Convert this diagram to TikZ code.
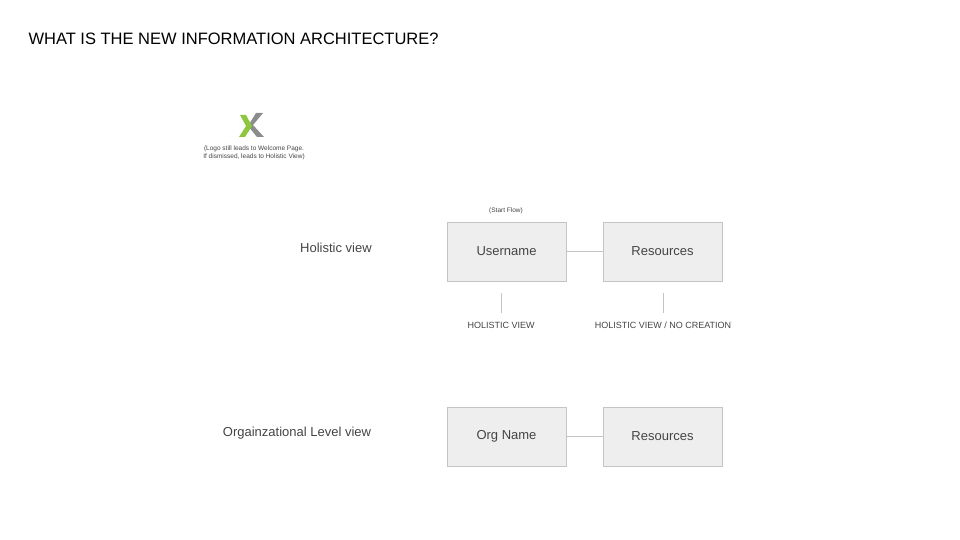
\documentclass[tikz,border=0pt]{standalone}
\usepackage{fontspec}
\setmainfont{Liberation Sans}
\definecolor{boxfill}{HTML}{EEEEEE}
\definecolor{boxline}{HTML}{C4C4C4}
\definecolor{txt}{HTML}{444444}
\definecolor{lgreen}{HTML}{8DC63F}
\definecolor{lgrey}{HTML}{8C8C8C}
\begin{document}
\begin{tikzpicture}[x=1pt,y=-1pt,
  pagebox/.style={draw=boxline,fill=boxfill,minimum width=119pt,minimum height=59pt,font=\fontsize{13}{15}\selectfont,text=txt},
  conn/.style={draw=boxline,line width=0.8pt},
  lbl/.style={font=\fontsize{13}{15}\selectfont,text=txt},
  captxt/.style={font=\fontsize{9}{11}\selectfont,text=txt},
  tiny/.style={font=\fontsize{6.5}{7.5}\selectfont,text=txt,align=center}]
\useasboundingbox (0,0) rectangle (960,540);
\node[anchor=west,font=\fontsize{16.5}{19}\selectfont,text=black] (title) at (25,39) {WHAT IS THE NEW INFORMATION ARCHITECTURE?};
% logo
\fill[lgrey] (256,113) -- (263,113) -- (253,125) -- (264,137) -- (257,137) -- (248,126) -- cycle;
\fill[lgreen] (240,115) -- (246,115) -- (252,126) -- (245,137) -- (239,137) -- (246,126) -- cycle;
\node[tiny] (logotxt) at (254,153) {(Logo still leads to Welcome Page.\\If dismissed, leads to Holistic View)};
\node[lbl] (hv) at (336,248) {Holistic view};
\node[lbl] (olv) at (297,433) {Orgainzational Level view};
\node[pagebox] (user) at (506.5,251.5) {Username};
\node[pagebox] (res1) at (662.5,251.5) {Resources};
\node[pagebox] (org) at (506.5,436.5) {Org Name};
\node[pagebox] (res2) at (662.5,436.5) {Resources};
\node[tiny] (start) at (506,211) {(Start Flow)};
\draw[conn] (user) -- (res1);
\draw[conn] (org) -- (res2);
\coordinate (a1) at (501,293); \coordinate (a2) at (501,313);
\coordinate (b1) at (663,293); \coordinate (b2) at (663,313);
\draw[conn] (a1) -- (a2);
\draw[conn] (b1) -- (b2);
\node[captxt] (c1) at (501,325.5) {HOLISTIC VIEW};
\node[captxt] (c2) at (663,325.5) {HOLISTIC VIEW / NO CREATION};
\end{tikzpicture}
\end{document}
